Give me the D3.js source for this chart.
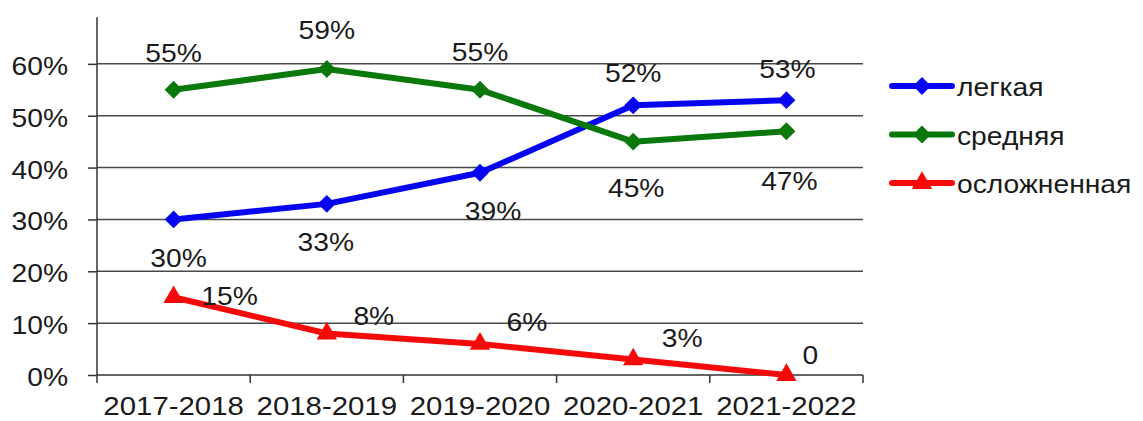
<!DOCTYPE html>
<html>
<head>
<meta charset="utf-8">
<script src="https://cdn.jsdelivr.net/npm/d3@7"></script>
<style>
    body { margin: 0; background: #fff; }
    text { font-family: "Liberation Sans", Arial, sans-serif; fill: #1a1a1a; }
</style>
</head>
<body>
<div id="chart"></div>
<script>
// categories and series
const years = ["2017-2018", "2018-2019", "2019-2020", "2020-2021", "2021-2022"];
const light = [0.30, 0.33, 0.39, 0.52, 0.53];
const medium = [0.55, 0.59, 0.55, 0.45, 0.47];
const complicated = [0.15, 0.08, 0.06, 0.03, 0];
const yTicks = [0, 0.1, 0.2, 0.3, 0.4, 0.5, 0.6];

// where each value label sits relative to its point (dx, dy of the baseline)
const lightLabelOffsets = [[5, 48], [-1, 47], [13, 47], [0, -23], [1, -22]];
const mediumLabelOffsets = [[0, -28], [0, -30], [0, -29], [3, 55], [3, 59]];
const complicatedLabelOffsets = [[56, 8], [47, -9], [47, -13], [49, -12], [24, -11]];

const width = 1143, height = 421;
const margin = { top: 12, right: 280, bottom: 46, left: 97 };
const innerW = width - margin.left - margin.right;
const innerH = height - margin.top - margin.bottom;

const svg = d3.select("#chart").append("svg")
    .attr("width", width)
    .attr("height", height);

const g = svg.append("g")
    .attr("transform", "translate(" + margin.left + "," + margin.top + ")");

const x = d3.scaleBand().domain(years).range([0, innerW]);
const y = d3.scaleLinear().domain([0, 0.7]).range([innerH, 0]);
const cx = d => x(d) + x.bandwidth() / 2;

// text in the picture is a bit wider than Arial
function stretchText(sel, tx, ty, anchor, size) {
    return sel.append("text")
        .attr("text-anchor", anchor)
        .attr("transform", "translate(" + tx + "," + ty + ") scale(1.13,1)")
        .attr("font-size", size || 25);
}

// gridlines
g.selectAll(".grid").data(yTicks.slice(1)).enter().append("line")
    .attr("x1", 0).attr("x2", innerW)
    .attr("y1", d => y(d)).attr("y2", d => y(d))
    .attr("stroke", "#4a4a4a").attr("stroke-width", 1.5);

// y axis
const yAxis = d3.axisLeft(y).tickValues(yTicks).tickFormat(d3.format(".0%")).tickSize(9).tickSizeOuter(0);
const yG = g.append("g").call(yAxis);
yG.select(".domain").remove();
yG.selectAll(".tick line").attr("stroke", "#333").attr("stroke-width", 1.5);
yG.selectAll(".tick text").remove();
yTicks.forEach(t => {
    stretchText(g, -29, y(t) + 11, "end").text(d3.format(".0%")(t));
});
g.append("line")
    .attr("x1", 0).attr("x2", 0)
    .attr("y1", y(0.69)).attr("y2", innerH + 8)
    .attr("stroke", "#333").attr("stroke-width", 1.5);

// x axis
g.append("line")
    .attr("x1", 0).attr("x2", innerW)
    .attr("y1", innerH).attr("y2", innerH)
    .attr("stroke", "#333").attr("stroke-width", 1.5);
g.selectAll(".xtick").data(years.slice(1).concat(["end"])).enter().append("line")
    .attr("x1", (d, i) => (i + 1) * x.bandwidth())
    .attr("x2", (d, i) => (i + 1) * x.bandwidth())
    .attr("y1", innerH).attr("y2", innerH + 8)
    .attr("stroke", "#333").attr("stroke-width", 1.5);
years.forEach(yr => {
    stretchText(g, cx(yr), innerH + 40, "middle", 26).text(yr);
});

const series = [
    { name: "легкая", values: light, color: "#0505f0", marker: "diamond", offsets: lightLabelOffsets },
    { name: "средняя", values: medium, color: "#0b780b", marker: "diamond", offsets: mediumLabelOffsets },
    { name: "осложненная", values: complicated, color: "#f50a0a", marker: "triangle", offsets: complicatedLabelOffsets }
];

const line = d3.line()
    .x((d, i) => cx(years[i]))
    .y(d => y(d));

const symbolFor = m => m === "diamond"
    ? d3.symbol().type(d3.symbolSquare).size(160)
    : d3.symbol().type(d3.symbolTriangle).size(180);

series.forEach(s => {
    g.append("path")
        .attr("d", line(s.values))
        .attr("fill", "none")
        .attr("stroke", s.color)
        .attr("stroke-width", 6)
        .attr("stroke-linejoin", "round");

    g.selectAll(null).data(s.values).enter().append("path")
        .attr("d", symbolFor(s.marker)())
        .attr("transform", (d, i) => "translate(" + cx(years[i]) + "," + y(d) + ")" + (s.marker === "diamond" ? " rotate(45)" : ""))
        .attr("fill", s.color);

    s.values.forEach((v, i) => {
        const label = v === 0 ? "0" : d3.format(".0%")(v);
        stretchText(g, cx(years[i]) + s.offsets[i][0], y(v) + s.offsets[i][1], "middle").text(label);
    });
});

// legend
const legend = svg.append("g").attr("transform", "translate(892,86)");
series.forEach((s, i) => {
    const row = legend.append("g").attr("transform", "translate(0," + (i * 48.5) + ")");
    row.append("line")
        .attr("x1", 0).attr("x2", 60)
        .attr("stroke", s.color).attr("stroke-width", 6).attr("stroke-linecap", "round");
    row.append("path")
        .attr("d", symbolFor(s.marker)())
        .attr("transform", "translate(30,0)" + (s.marker === "diamond" ? " rotate(45)" : ""))
        .attr("fill", s.color);
    stretchText(row, 65, 10, "start").text(s.name);
});
</script>
</body>
</html>
